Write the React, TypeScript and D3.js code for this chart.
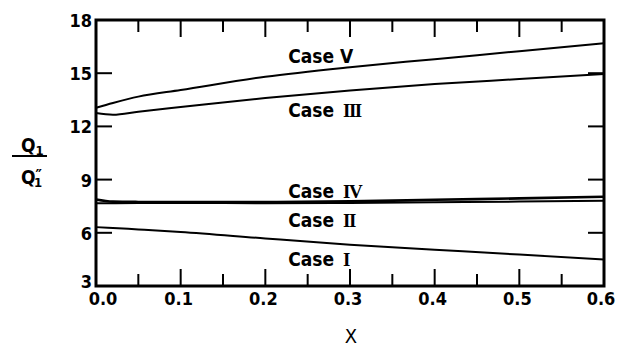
import React from "react";
import * as d3 from "d3";

// Ratio Q1/Q1'' versus X for five cases
const xValues = [0, 0.02, 0.05, 0.1, 0.2, 0.3, 0.4, 0.5, 0.6];
const caseV = [13.05, 13.32, 13.68, 14.05, 14.8, 15.34, 15.79, 16.24, 16.69];
const caseIII = [12.75, 12.66, 12.83, 13.09, 13.6, 14.02, 14.39, 14.67, 14.95];
const caseIV = [7.88, 7.76, 7.74, 7.73, 7.73, 7.77, 7.86, 7.94, 8.03];
const caseII = [7.66, 7.67, 7.68, 7.68, 7.67, 7.68, 7.72, 7.76, 7.81];
const caseI = [6.32, 6.27, 6.19, 6.05, 5.68, 5.33, 5.05, 4.77, 4.5];

const caseNames = ["V", "III", "IV", "II", "I"];
const caseSeries = [caseV, caseIII, caseIV, caseII, caseI];
// label anchor: [x value, y value] at the baseline start of each case name
const labelAnchors: [number, number][] = [
  [0.227, 15.58],
  [0.227, 12.53],
  [0.227, 7.96],
  [0.227, 6.33],
  [0.227, 4.13],
];

const xTicks = [0, 0.1, 0.2, 0.3, 0.4, 0.5, 0.6];
const xTickLabels = ["0.0", "0.1", "0.2", "0.3", "0.4", "0.5", "0.6"];
const yTicks = [3, 6, 9, 12, 15, 18];
const yTickLabels = ["3", "6", "9", "12", "15", "18"];

const W = 627;
const H = 349;
const font = "'DejaVu Sans Condensed', 'DejaVu Sans', sans-serif";
const serif = "'Liberation Serif', 'DejaVu Serif', serif";

export default function App() {
  const x = d3.scaleLinear().domain([0, 0.6]).range([96, 604]);
  const y = d3.scaleLinear().domain([3, 18]).range([286, 20]);

  const line = d3
    .line<number>()
    .x((_, i) => x(xValues[i]))
    .y((d) => y(d))
    .curve(d3.curveMonotoneX);

  const minorX = d3.range(0.05, 0.6, 0.1);
  const innerY = yTicks.slice(1, -1);

  return (
    <svg
      width={W}
      height={H}
      style={{ position: "absolute", left: 0, top: 0, background: "#fff" }}
    >
      {/* curves */}
      {caseSeries.map((s, i) => (
        <path
          key={caseNames[i]}
          d={line(s) ?? ""}
          fill="none"
          stroke="#000"
          strokeWidth={caseNames[i] === "IV" ? 2.6 : 2}
        />
      ))}

      {/* frame */}
      <rect
        x={x(0)}
        y={y(18)}
        width={x(0.6) - x(0)}
        height={y(3) - y(18)}
        fill="none"
        stroke="#000"
        strokeWidth={3}
      />

      {/* x ticks, bottom and top, pointing inward */}
      {xTicks.slice(1, -1).map((t) => (
        <g key={"xt" + t}>
          <line x1={x(t)} x2={x(t)} y1={y(3)} y2={y(3) - 17} stroke="#000" strokeWidth={2} />
          <line x1={x(t)} x2={x(t)} y1={y(18)} y2={y(18) + 17} stroke="#000" strokeWidth={2} />
        </g>
      ))}
      {minorX.map((t) => (
        <g key={"xm" + t}>
          <line x1={x(t)} x2={x(t)} y1={y(3)} y2={y(3) - 12} stroke="#000" strokeWidth={2} />
          <line x1={x(t)} x2={x(t)} y1={y(18)} y2={y(18) + 12} stroke="#000" strokeWidth={2} />
        </g>
      ))}

      {/* y ticks, left and right, pointing inward */}
      {innerY.map((t) => (
        <g key={"yt" + t}>
          <line x1={x(0)} x2={x(0) + 16} y1={y(t)} y2={y(t)} stroke="#000" strokeWidth={2} />
          <line x1={x(0.6)} x2={x(0.6) - 16} y1={y(t)} y2={y(t)} stroke="#000" strokeWidth={2} />
        </g>
      ))}

      {/* tick labels */}
      {xTicks.map((t, i) => (
        <text
          key={"xl" + t}
          x={x(t)}
          dx={i === 0 ? 7 : i === xTicks.length - 1 ? -3 : -2}
          y={305}
          textAnchor="middle"
          fontFamily={font}
          fontWeight="bold"
          fontSize={18}
        >
          {xTickLabels[i]}
        </text>
      ))}
      {yTicks.map((t, i) => (
        <text
          key={"yl" + t}
          x={92}
          y={y(t)}
          dy={i === 0 ? 2 : 7}
          textAnchor="end"
          fontFamily={font}
          fontWeight="bold"
          fontSize={18}
        >
          {yTickLabels[i]}
        </text>
      ))}

      {/* case labels */}
      {caseNames.map((n, i) => (
        <text
          key={"lab" + n}
          x={x(labelAnchors[i][0])}
          y={y(labelAnchors[i][1])}
          fontFamily={font}
          fontWeight="bold"
          fontSize={19}
        >
          Case
          <tspan
            dx={n === "V" ? 6 : 9}
            fontFamily={n === "V" ? font : serif}
            letterSpacing={n === "V" ? 0 : -1.5}
          >
            {n}
          </tspan>
        </text>
      ))}

      {/* x axis title */}
      <text x={351} y={343} textAnchor="middle" fontFamily={font} fontSize={20}>
        X
      </text>

      {/* y axis title: Q1 / Q1'' */}
      <g fontFamily={font} fontWeight="bold">
        <text x={21} y={152} fontSize={19}>
          Q<tspan fontSize={13} dy={3}>1</tspan>
        </text>
        <line x1={12} x2={47} y1={156} y2={156} stroke="#000" strokeWidth={2} />
        <text x={21} y={184} fontSize={19}>
          Q
          <tspan fontSize={16} dy={-3}>″</tspan>
          <tspan fontSize={13} dx={-8} dy={6}>1</tspan>
        </text>
      </g>
    </svg>
  );
}
